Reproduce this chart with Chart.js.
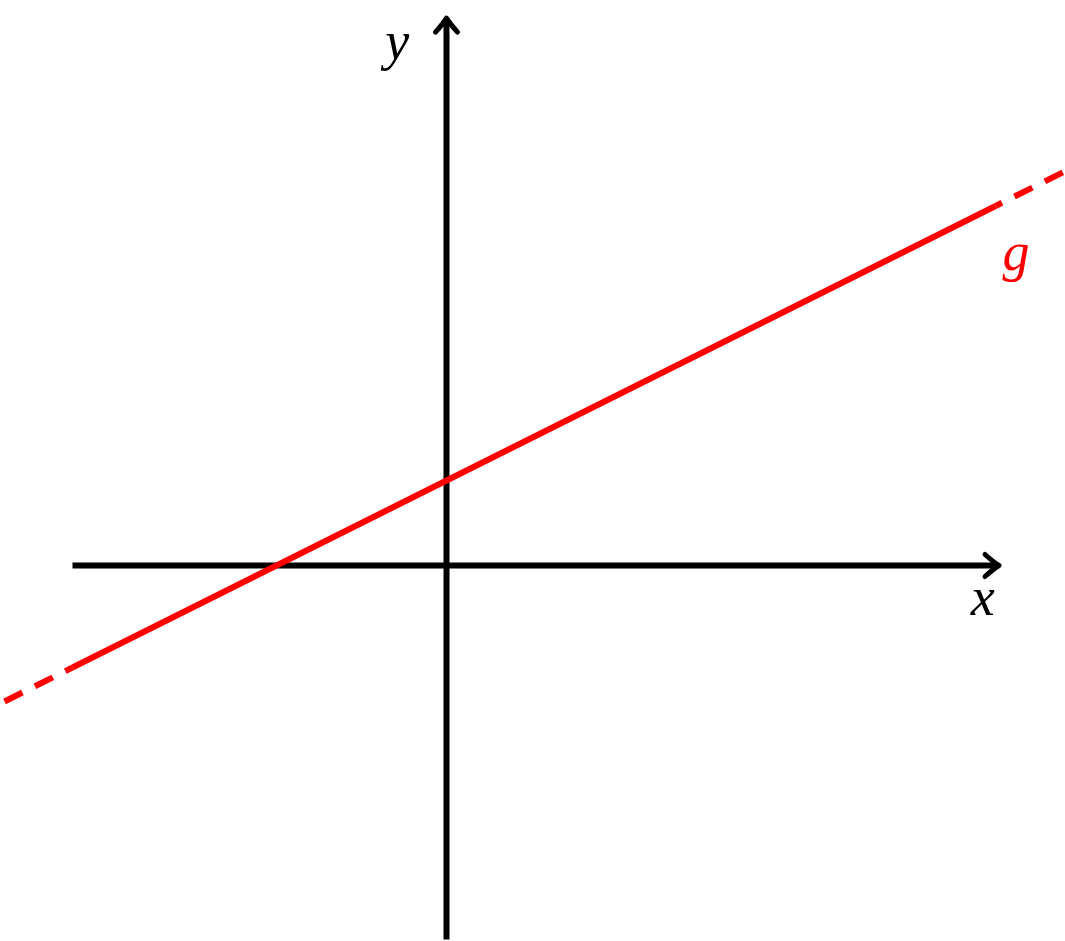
<!DOCTYPE html>
<html>
<head>
<meta charset="utf-8">
<script src="https://cdn.jsdelivr.net/npm/chart.js@4"></script>
<style>
  body { margin: 0; background: #fff; }
  canvas { display: block; }
</style>
</head>
<body>
<canvas id="graph" width="1065" height="941"></canvas>
<script>
// line g: y = x/2 + 1, end points
const gSolid = [[-4.4, -1.2], [6.46, 4.23]];
const gDashLeft = [[-5.2, -1.6], [-4.4, -1.2]];
const gDashRight = [[7.25, 4.625], [6.46, 4.23]];

// coordinate axes
const xAxisLine = [[-4.4, 0], [6.5, 0]];
const yAxisLine = [[0, -4.4], [0, 6.44]];

// labels: text, x, y, colour
const labels = [
  ['y', -0.58, 6.12, '#000'],
  ['x', 6.31, -0.42, '#000'],
  ['g', 6.7, 3.64, '#ff0000']
];

const toPts = arr => arr.map(p => ({ x: p[0], y: p[1] }));

const red = '#ff0000';
const lw = 6;

// arrow heads + axis labels
const decorPlugin = {
  id: 'decor',
  afterDatasetsDraw(chart) {
    const ctx = chart.ctx;
    const sx = chart.scales.x, sy = chart.scales.y;
    ctx.save();
    ctx.strokeStyle = '#000';
    ctx.lineWidth = 5;
    ctx.lineCap = 'round';
    ctx.lineJoin = 'round';
    // x arrow
    let tx = sx.getPixelForValue(xAxisLine[1][0]), ty = sy.getPixelForValue(0);
    ctx.beginPath();
    ctx.moveTo(tx - 14, ty - 11);
    ctx.quadraticCurveTo(tx - 5, ty - 3, tx, ty);
    ctx.quadraticCurveTo(tx - 5, ty + 3, tx - 14, ty + 11);
    ctx.stroke();
    // y arrow
    tx = sx.getPixelForValue(0); ty = sy.getPixelForValue(yAxisLine[1][1]);
    ctx.beginPath();
    ctx.moveTo(tx - 11, ty + 14);
    ctx.quadraticCurveTo(tx - 3, ty + 5, tx, ty);
    ctx.quadraticCurveTo(tx + 3, ty + 5, tx + 11, ty + 14);
    ctx.stroke();

    ctx.font = 'italic 54px "Liberation Serif", "DejaVu Serif", serif';
    ctx.textAlign = 'center';
    ctx.textBaseline = 'middle';
    labels.forEach(l => {
      ctx.fillStyle = l[3];
      ctx.fillText(l[0], sx.getPixelForValue(l[1]), sy.getPixelForValue(l[2]));
    });
    ctx.restore();
  }
};

new Chart(document.getElementById('graph'), {
  type: 'scatter',
  data: {
    datasets: [
      { data: toPts(gSolid), borderColor: red, borderWidth: lw, order: 0 },
      { data: toPts(gDashLeft), borderColor: red, borderWidth: lw, borderDash: [20, 14], order: 1 },
      { data: toPts(gDashRight), borderColor: red, borderWidth: lw, borderDash: [20, 14], order: 1 },
      { data: toPts(xAxisLine), borderColor: '#000', borderWidth: lw, order: 2 },
      { data: toPts(yAxisLine), borderColor: '#000', borderWidth: lw, order: 2 }
    ]
  },
  options: {
    responsive: false,
    animation: false,
    showLine: true,
    elements: { point: { radius: 0, hoverRadius: 0 }, line: { tension: 0 } },
    layout: { padding: 0 },
    plugins: { legend: { display: false }, tooltip: { enabled: false } },
    scales: {
      x: { type: 'linear', min: -446.5 / 85, max: (1065 - 446.5) / 85, display: false },
      y: { type: 'linear', min: -(941 - 565.5) / 85, max: 565.5 / 85, display: false }
    }
  },
  plugins: [decorPlugin]
});
</script>
</body>
</html>
